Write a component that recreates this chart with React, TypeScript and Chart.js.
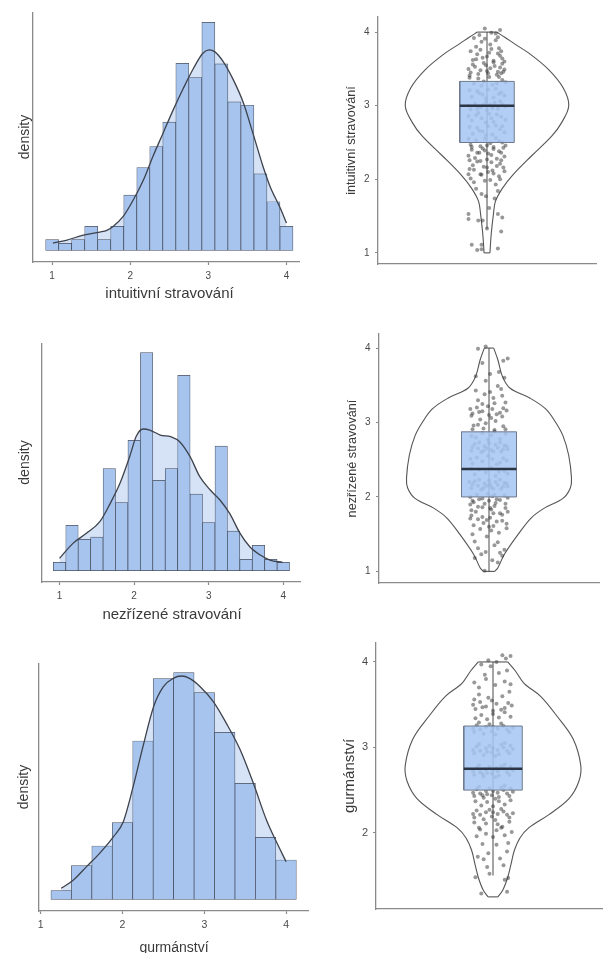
import React, { useEffect, useRef } from "react";
import { Chart, registerables } from "chart.js";

Chart.register(...registerables);

// ---------------- data ----------------
const HIST_TICKS = [1, 2, 3, 4];
const BINS_SIXTH = [1.0, 1.167, 1.333, 1.5, 1.667, 1.833, 2.0, 2.167, 2.333, 2.5, 2.667, 2.833, 3.0, 3.167, 3.333, 3.5, 3.667, 3.833, 4.0];
const BINS_QUARTER = [1.25, 1.5, 1.75, 2.0, 2.25, 2.5, 2.75, 3.0, 3.25, 3.5, 3.75, 4.0];

// intuitivní stravování
const H1_HEIGHTS = [3.2, 2.1, 3.2, 7.2, 3.2, 7.2, 16.6, 24.9, 31.2, 38.5, 56.2, 51.9, 68.5, 56.0, 44.6, 43.6, 23.0, 14.6, 7.2];
const H1_DENS_X = [1.01, 1.18, 1.4, 1.61, 1.7, 1.78, 1.91, 2.04, 2.17, 2.29, 2.42, 2.55, 2.68, 2.81, 2.93, 3.01, 3.08, 3.19, 3.32, 3.45, 3.57, 3.7, 3.79, 3.92, 4.0];
const H1_DENS_Y = [2.2, 3.0, 4.6, 5.5, 6.0, 7.2, 10.2, 15.2, 21.2, 28.2, 35.2, 42.2, 48.7, 54.7, 59.2, 60.2, 59.7, 56.7, 51.2, 44.2, 35.2, 25.2, 19.2, 12.7, 8.2];

// nezřízené stravování
const H2_HEIGHTS = [2.5, 13.6, 9.4, 10.1, 30.6, 20.4, 39.1, 65.4, 27.1, 30.6, 58.6, 23.0, 14.4, 37.4, 11.9, 3.4, 7.6, 3.4, 2.5];
const H2_DENS_X = [1.0, 1.18, 1.36, 1.54, 1.68, 1.81, 1.94, 2.03, 2.12, 2.21, 2.35, 2.49, 2.61, 2.75, 2.88, 3.02, 3.15, 3.28, 3.42, 3.55, 3.69, 3.82, 3.99];
const H2_DENS_Y = [3.7, 8.2, 11.2, 14.7, 20.2, 26.2, 34.2, 40.4, 42.5, 42.2, 40.7, 40.2, 38.7, 34.2, 28.2, 24.2, 21.2, 17.2, 11.2, 7.2, 4.7, 3.2, 2.5];

// gurmánství
const H3_HEIGHTS = [2.6, 10.1, 16.0, 23.0, 47.5, 66.2, 68.0, 62.0, 50.1, 34.8, 18.6, 11.8];
const H3_DENS_X = [1.25, 1.4, 1.56, 1.72, 1.89, 2.01, 2.13, 2.25, 2.38, 2.5, 2.62, 2.72, 2.82, 2.95, 3.11, 3.27, 3.44, 3.6, 3.76, 3.89, 4.0];
const H3_DENS_Y = [3.3, 5.8, 9.8, 13.8, 18.8, 23.3, 33.8, 45.8, 57.8, 63.8, 66.3, 67.0, 66.3, 63.8, 59.3, 52.8, 44.8, 34.8, 23.8, 16.8, 11.3];

// violins: value grid + relative half-width (density)
const V1_Y = [1.0, 1.26, 1.53, 1.7, 1.88, 2.06, 2.33, 2.59, 2.77, 3.0, 3.24, 3.49, 3.71, 3.84, 3.93, 4.0];
const V1_DENS = [0.036, 0.052, 0.079, 0.103, 0.19, 0.317, 0.556, 0.794, 0.913, 1.0, 0.933, 0.754, 0.516, 0.337, 0.218, 0.119];
const V1_BOX = [1.33, 2.5, 3.0, 3.33, 4.0]; // whisker low, Q1, median, Q3, whisker high
const V1_TICKS = [1, 2, 3, 4];
const V1_PTS = [
  -14, 111, -9, 104, -5, 111, -5, 105, 10, 106,
  -17, 153, -17, 146, -8, 144, -4, 144, 0, 133, 10, 153, 14, 148, 13, 129, 2, 161,
  -5, 180, -1, 177, 7, 174, 10, 184, -10, 187,
  -12, 196, 3, 199, 11, 204, -6, 207, 8, 193, -15, 201,
  -16, 214, -3, 217, 5, 212, 12, 221, -9, 224, 1, 210, 15, 216, -13, 219,
  -11, 229, 4, 233, 13, 236, -2, 239, -17, 232, 9, 228, -7, 236, 16, 231, 0, 227, -14, 240,
  -15, 247, -6, 245, 3, 249, 11, 252, 17, 246, -10, 253, 6, 244, -2, 255, 14, 250, -17, 255, 0, 246, 8, 256,
  -13, 262, -4, 265, 5, 261, 12, 268, -9, 270, 1, 272, 16, 264, -16, 271, 8, 273, -1, 260, 14, 272, -7, 266,
  -14, 280, -5, 283, 6, 278, 13, 285, -10, 287, 2, 289, 17, 281, -1, 277, 9, 288, -17, 286, 4, 283, -8, 290,
  -15, 295, -6, 298, 3, 301, 10, 296, 17, 299, -11, 303, -1, 305, 7, 304, 14, 302, -17, 300, 0, 294, -9, 296, 5, 297, 12, 306, -3, 301,
  -14, 312, -4, 315, 6, 311, 13, 318, -9, 320, 1, 322, 16, 314, -16, 321, 8, 323, -1, 310, 11, 316, -7, 317,
  -12, 330, -3, 333, 5, 328, 14, 335, -8, 337, 2, 339, 17, 332, -16, 338, 9, 330, -5, 327, 11, 339,
  -15, 345, -6, 348, 3, 351, 10, 346, 16, 349, -11, 353, -1, 355, 7, 354, 13, 344, -17, 350, 0, 347, 12, 352,
  -13, 362, -4, 365, 6, 361, 12, 368, -9, 370, 2, 372, 14, 364,
  -10, 380, 3, 383, 11, 378, -5, 387, 8, 389,
  -7, 396, 4, 399, 12, 403, -2, 405, 8, 398,
  -16, 341, -8, 343, 1, 344, 9, 342, 15, 346, -13, 356, -3, 358, 6, 359, 14, 357, -10, 363, 0, 367, 10, 371,
  -15, 374, -6, 376, 4, 377, 13, 374, -2, 391, 10, 393, -12, 392, 16, 360,
  -14, 244, -4, 242, 6, 241, 15, 243, -9, 236, 1, 235, 11, 238, -16, 226, -6, 225, 4, 223, 13, 226,
  -12, 213, 0, 216, 9, 218, -5, 206, 6, 208, 16, 211, -17, 207, -2, 198, 12, 200,
];

const V2_Y = [1.0, 1.05, 1.23, 1.5, 1.72, 1.85, 1.98, 2.12, 2.25, 2.56, 2.82, 3.0, 3.18, 3.33, 3.46, 3.62, 3.84, 4.0];
const V2_DENS = [0.069, 0.108, 0.187, 0.355, 0.513, 0.671, 0.897, 0.986, 1.0, 0.966, 0.897, 0.809, 0.69, 0.493, 0.256, 0.162, 0.108, 0.057];
const V2_BOX = [1.0, 2.0, 2.375, 2.875, 4.0];
const V2_TICKS = [1, 2, 3, 4];
const V2_PTS = [
  -4, 101,
  -13, 118, 3, 115, 12, 121, -7, 123, 8, 112,
  -10, 131, 5, 135, 14, 129,
  -15, 150, -2, 147, 9, 152,
  -14, 162, -5, 165, 4, 161, 12, 168, -10, 170, 1, 172, 16, 164, -17, 171, 7, 167, -2, 169,
  -12, 180, 2, 183, 10, 178, -6, 186, 15, 185, -16, 182, 5, 188,
  -15, 195, -6, 198, 3, 201, 10, 196, 17, 199, -11, 203, -1, 204, 7, 197, 14, 202, -17, 200, 0, 195, -9, 197, 5, 203,
  -16, 212, -10, 215, -4, 218, 2, 213, 8, 216, 14, 219, -13, 221, -7, 210, 0, 222, 6, 220, 11, 211, 17, 214, -15, 217, -2, 215, 4, 211, 10, 223, -9, 223, 16, 218, -5, 212, 13, 214, -18, 220, 1, 217,
  -13, 230, -3, 233, 6, 228, 14, 235, -9, 237, 2, 239, 17, 231, -16, 238, 9, 234,
  -15, 245, -6, 248, 3, 251, 10, 246, 16, 249, -11, 253, -1, 255, 7, 244, 13, 252, -17, 251,
  -16, 262, -10, 265, -4, 268, 2, 263, 8, 266, 14, 269, -13, 271, -7, 260, 0, 272, 6, 270, 11, 261, 17, 264, -15, 267, -2, 265, 4, 261, 10, 273, -9, 273, 16, 268, -5, 262, 13, 264,
  -12, 280, 2, 283, 10, 278, -6, 286, 15, 285, -16, 282, 5, 288, -1, 277,
  -14, 296, -3, 299, 6, 302, 13, 295, -8, 304,
  -15, 312, -6, 315, 3, 318, 10, 313, 16, 316, -11, 320, -1, 322, 7, 311, 13, 319, -17, 318, 0, 310, -9, 314,
  -10, 330, 4, 333, 12, 336, -4, 338,
  8, 349,
  -12, 362, 1, 365, 9, 368,
  -6, 380, 13, 383, 17, 386,
  -10, 399, -3, 402,
  -14, 193, -4, 191, 6, 192, 15, 191, -10, 187, 1, 185, 12, 176, -16, 175, -6, 173, 4, 178,
  16, 158, -8, 157, 2, 155, -13, 140, 8, 139, -3, 126, 10, 125, -17, 190, 17, 180, 0, 160,
  -15, 291, -5, 292, 5, 290, 15, 291, -10, 297, 2, 306, 12, 308, -16, 309, -6, 325, 5, 326,
  15, 327, -12, 343, 1, 341, 11, 345, -3, 356, 14, 360,
];

const V3_Y = [1.25, 1.33, 1.48, 1.63, 1.79, 1.94, 2.06, 2.21, 2.4, 2.6, 2.79, 3.1, 3.37, 3.6, 3.75, 3.9, 4.0];
const V3_DENS = [0.056, 0.112, 0.168, 0.205, 0.242, 0.307, 0.41, 0.633, 0.866, 0.978, 1.0, 0.912, 0.726, 0.54, 0.354, 0.251, 0.168];
const V3_BOX = [1.5, 2.5, 2.75, 3.25, 4.0];
const V3_TICKS = [2, 3, 4];
const V3_PTS = [
  -10, 129, 12, 131,
  -15, 148, -3, 152, 10, 145, 13, 147,
  -13, 172, -4, 176, 6, 170, 12, 178, -8, 169,
  -14, 196, -6, 199, 3, 203, 10, 197, 16, 201, -11, 204, 0, 195, 7, 206,
  -16, 218, -11, 221, -6, 224, -1, 219, 4, 222, 9, 225, 14, 218, 17, 223, -14, 226, -8, 216, -3, 227, 2, 215, 7, 228, 12, 221, -17, 222, 0, 224,
  -16, 243, -11, 246, -6, 249, -1, 244, 4, 247, 9, 250, 14, 243, 17, 248, -14, 251, -8, 241, -3, 252, 2, 240, 7, 253, 12, 246, -17, 247, 0, 249, -12, 254, 5, 242, 15, 252, -5, 245, 10, 255, -9, 244,
  -16, 268, -11, 271, -6, 274, -1, 269, 4, 272, 9, 275, 14, 268, 17, 273, -14, 276, -8, 266, -3, 277, 2, 265, 7, 278, 12, 271, -17, 272, 0, 274, -12, 279, 5, 267, 15, 277, -5, 270, 10, 280, -9, 269, 3, 276,
  -16, 293, -11, 296, -6, 299, -1, 294, 4, 297, 9, 300, 14, 293, 17, 298, -14, 301, -8, 291, -3, 302, 2, 290, 7, 303, 12, 296, -17, 297, 0, 299, -12, 304, 5, 292, 15, 302, -5, 295, 10, 305,
  -16, 318, -11, 321, -6, 324, -1, 319, 4, 322, 9, 325, 14, 318, 17, 323, -14, 326, -8, 316, -3, 327, 2, 315, 7, 328, 12, 321, -17, 322, 0, 324, -12, 329,
  -15, 345, -6, 348, 3, 351, 10, 346, 16, 349, -11, 353, -1, 355, 7, 344, 13, 352, -17, 350, 0, 343, -9, 347,
  -12, 370, 2, 373, 10, 377, -6, 380, 15, 374, -16, 376,
  -10, 397, 3, 400, 11, 404, 15, 407, -4, 402, 8, 408,
  -15, 237, -5, 236, 5, 237, 15, 238, -10, 232, 0, 231, 10, 233, -16, 212, -6, 211, 4, 210, 14, 213,
  -12, 206, 8, 207, -9, 187, 3, 186, 13, 188, -5, 160, 9, 162,
  -15, 334, -5, 333, 5, 335, 15, 336, -10, 338, 0, 339, 10, 341, -16, 356, -4, 358, 8, 360,
  -12, 362, 14, 365, -7, 385, 5, 387, 12, 390, -2, 395,
];

// ---------------- styles ----------------
const FONT = "'Liberation Sans', Arial, Helvetica, sans-serif";
const BAR_FILL = "#a6c4ee";
const BAR_EDGE = "rgba(55,62,78,0.9)";
const DENS_FILL = "#d6e3f6";
const DENS_LINE = "#3d424c";
const AXIS = "#8a8a8a";
const TEXT = "#3a3a3a";
const TICK_TEXT = "#4a4a4a";
const VIOLIN = "#555555";
const WHISKER = "#4a4a4a";
const PT = "rgba(50,50,50,0.5)";
const BOX_FILL = "rgba(166,198,242,0.86)";
const BOX_EDGE = "#6e7a8c";
const MEDIAN = "#2b3544";
const VIOLIN_HALF = 0.75;
const BOX_HALF = 0.25;

type Layout = {
  left: number; top: number; clipW: number; clipH: number; w: number; h: number;
  yw: number; xh: number; xmin: number; xmax: number; ymin: number; ymax: number;
  title: string; titleSize: number; titlePad: number; tickSize: number; tickPad: number;
};

function axisCommon() {
  return {
    border: { display: true, color: AXIS, width: 1.3 },
  };
}

function noPad(s: any) {
  s.paddingTop = 0; s.paddingBottom = 0; s.paddingLeft = 0; s.paddingRight = 0;
}

function histConfig(centers: number[], heights: number[], dx: number[], dy: number[], L: Layout, yTitlePad: number): any {
  const bars = centers.map((x, i) => ({ x, y: heights[i] }));
  const dens = dx.map((x, i) => ({ x, y: dy[i] }));
  return {
    type: "bar",
    data: {
      datasets: [
        { type: "line", data: dens, borderWidth: 0, pointRadius: 0, fill: "origin", backgroundColor: DENS_FILL, cubicInterpolationMode: "monotone", order: 3 },
        { type: "bar", data: bars, backgroundColor: BAR_FILL, borderColor: BAR_EDGE, borderWidth: 0.7, borderSkipped: false, barPercentage: 1, categoryPercentage: 1, order: 2 },
        { type: "line", data: dens, borderColor: DENS_LINE, borderWidth: 1.3, pointRadius: 0, fill: false, cubicInterpolationMode: "monotone", order: 1 },
      ],
    },
    options: {
      animation: false, responsive: false, events: [], devicePixelRatio: 1,
      layout: { padding: 0 },
      plugins: { legend: { display: false }, tooltip: { enabled: false } },
      scales: {
        x: {
          type: "linear", min: L.xmin, max: L.xmax, offset: false, bounds: "data",
          afterBuildTicks: (s: any) => { s.ticks = HIST_TICKS.map((value) => ({ value })); },
          afterFit: (s: any) => { s.height = L.xh; noPad(s); },
          ticks: { font: { family: FONT, size: L.tickSize }, color: TICK_TEXT, padding: L.tickPad, maxRotation: 0 },
          grid: { display: true, offset: false, drawOnChartArea: false, drawTicks: true, tickLength: 3, tickColor: AXIS, tickWidth: 1.2 },
          ...axisCommon(),
          title: { display: true, text: L.title, font: { family: FONT, size: L.titleSize }, color: TEXT, padding: { top: 0, bottom: L.titlePad } },
        },
        y: {
          min: L.ymin, max: L.ymax, bounds: "data",
          afterFit: (s: any) => { s.width = L.yw; noPad(s); },
          ticks: { display: false },
          grid: { display: false },
          ...axisCommon(),
          title: { display: true, text: "density", font: { family: FONT, size: 14 }, color: TEXT, padding: { top: yTitlePad, bottom: 0 } },
        },
      },
    },
  };
}

function violinConfig(vy: number[], vd: number[], box: number[], ticks: number[], raw: number[], L: Layout): any {
  const n = vy.length - 1;
  const right = vy.map((y, i) => ({ x: vd[i] * VIOLIN_HALF, y }));
  const left = vy.map((y, i) => ({ x: -vd[i] * VIOLIN_HALF, y }));
  const pts: { x: number; y: number }[] = [];
  for (let i = 0; i < raw.length; i += 2) pts.push({ x: raw[i] / 100, y: raw[i + 1] / 100 });
  const [wlo, q1, med, q3, whi] = box;
  const line = (data: any[], color: string, width: number, order: number, extra: any = {}) => ({
    type: "line", data, borderColor: color, borderWidth: width, pointRadius: 0, fill: false, tension: 0, order, ...extra,
  });
  const rect = [
    { x: -BOX_HALF, y: q1 }, { x: BOX_HALF, y: q1 }, { x: BOX_HALF, y: q3 }, { x: -BOX_HALF, y: q3 }, { x: -BOX_HALF, y: q1 },
  ];
  return {
    type: "scatter",
    data: {
      datasets: [
        line(right, VIOLIN, 1.1, 10, { tension: 0.35 }),
        line(left, VIOLIN, 1.1, 10, { tension: 0.35 }),
        line([left[0], right[0]], VIOLIN, 1.1, 10),
        line([left[n], right[n]], VIOLIN, 1.1, 10),
        line([{ x: 0, y: wlo }, { x: 0, y: whi }], WHISKER, 1, 9),
        { type: "scatter", data: pts, pointRadius: 2, backgroundColor: PT, borderColor: PT, pointBorderWidth: 0, borderWidth: 0, order: 8 },
        line([{ x: -BOX_HALF, y: q1 }, { x: BOX_HALF, y: q1 }], "rgba(0,0,0,0)", 0, 7),
        line([{ x: -BOX_HALF, y: q3 }, { x: BOX_HALF, y: q3 }], "rgba(0,0,0,0)", 0, 6, { fill: "-1", backgroundColor: BOX_FILL }),
        line(rect, BOX_EDGE, 1, 5),
        line([{ x: -BOX_HALF, y: med }, { x: BOX_HALF, y: med }], MEDIAN, 2.4, 4),
      ],
    },
    options: {
      animation: false, responsive: false, events: [], devicePixelRatio: 1,
      layout: { padding: 0 },
      plugins: { legend: { display: false }, tooltip: { enabled: false } },
      scales: {
        x: {
          type: "linear", min: -1, max: 1, bounds: "data",
          afterFit: (s: any) => { s.height = L.xh; noPad(s); },
          ticks: { display: false },
          grid: { display: false },
          ...axisCommon(),
        },
        y: {
          type: "linear", min: L.ymin, max: L.ymax, bounds: "data",
          afterBuildTicks: (s: any) => { s.ticks = ticks.map((value) => ({ value })); },
          afterFit: (s: any) => { s.width = L.yw; noPad(s); },
          ticks: { font: { family: FONT, size: L.tickSize }, color: TICK_TEXT, padding: L.tickPad },
          grid: { display: true, drawOnChartArea: false, drawTicks: true, tickLength: 3, tickColor: AXIS, tickWidth: 1.2 },
          ...axisCommon(),
          title: { display: true, text: L.title, font: { family: FONT, size: L.titleSize }, color: TEXT, padding: { top: L.titlePad, bottom: 0 } },
        },
      },
    },
  };
}

// ---------------- layouts ----------------
const LH1: Layout = { left: 0, top: 12, clipW: 300, clipH: 298, w: 306, h: 298, yw: 33, xh: 48, xmin: 0.755, xmax: 4.25, ymin: -3.5, ymax: 71.6, title: "intuitivní stravování", titleSize: 15, titlePad: 7, tickSize: 10, tickPad: 5 };
const LH2: Layout = { left: 0, top: 343, clipW: 301, clipH: 285, w: 302, h: 285, yw: 42, xh: 46, xmin: 0.765, xmax: 4.25, ymin: -3.39, ymax: 68.3, title: "nezřízené stravování", titleSize: 15, titlePad: 4, tickSize: 10, tickPad: 5 };
const LH3: Layout = { left: 0, top: 663, clipW: 310, clipH: 290, w: 309, h: 300, yw: 39, xh: 52, xmin: 0.979, xmax: 4.28, ymin: -3.5, ymax: 70.9, title: "gurmánství", titleSize: 14, titlePad: 6.6, tickSize: 10.5, tickPad: 5 };

const LV1: Layout = { left: 300, top: 13, clipW: 303, clipH: 260, w: 300, h: 255, yw: 78, xh: 4, xmin: -1, xmax: 1, ymin: 0.849, ymax: 4.205, title: "intuitivní stravování", titleSize: 12.7, titlePad: 44.1, tickSize: 10, tickPad: 5.5 };
const LV2: Layout = { left: 300, top: 330, clipW: 303, clipH: 260, w: 303, h: 257, yw: 79, xh: 4, xmin: -1, xmax: 1, ymin: 0.844, ymax: 4.189, title: "nezřízené stravování", titleSize: 12.7, titlePad: 44.9, tickSize: 10, tickPad: 5.5 };
const LV3: Layout = { left: 300, top: 639, clipW: 303, clipH: 280, w: 314, h: 274, yw: 76, xh: 4, xmin: -1, xmax: 1, ymin: 1.108, ymax: 4.222, title: "gurmánství", titleSize: 15, titlePad: 41, tickSize: 11, tickPad: 5 };

function ChartBox({ L, make }: { L: Layout; make: () => any }) {
  const ref = useRef<HTMLCanvasElement>(null);
  useEffect(() => {
    const chart = new Chart(ref.current as HTMLCanvasElement, make());
    return () => chart.destroy();
  }, []);
  return (
    <div style={{ position: "absolute", left: L.left, top: L.top, width: L.clipW, height: L.clipH, overflow: "hidden" }}>
      <canvas ref={ref} width={L.w} height={L.h} style={{ display: "block", width: L.w, height: L.h }} />
    </div>
  );
}

export default function App() {
  return (
    <div style={{ position: "absolute", left: 0, top: 0, width: 603, height: 953, overflow: "hidden", background: "#ffffff" }}>
      <ChartBox L={LH1} make={() => histConfig(BINS_SIXTH, H1_HEIGHTS, H1_DENS_X, H1_DENS_Y, LH1, 16.6)} />
      <ChartBox L={LH2} make={() => histConfig(BINS_SIXTH, H2_HEIGHTS, H2_DENS_X, H2_DENS_Y, LH2, 16.6)} />
      <ChartBox L={LH3} make={() => histConfig(BINS_QUARTER, H3_HEIGHTS, H3_DENS_X, H3_DENS_Y, LH3, 15.5)} />
      <ChartBox L={LV1} make={() => violinConfig(V1_Y, V1_DENS, V1_BOX, V1_TICKS, V1_PTS, LV1)} />
      <ChartBox L={LV2} make={() => violinConfig(V2_Y, V2_DENS, V2_BOX, V2_TICKS, V2_PTS, LV2)} />
      <ChartBox L={LV3} make={() => violinConfig(V3_Y, V3_DENS, V3_BOX, V3_TICKS, V3_PTS, LV3)} />
    </div>
  );
}
